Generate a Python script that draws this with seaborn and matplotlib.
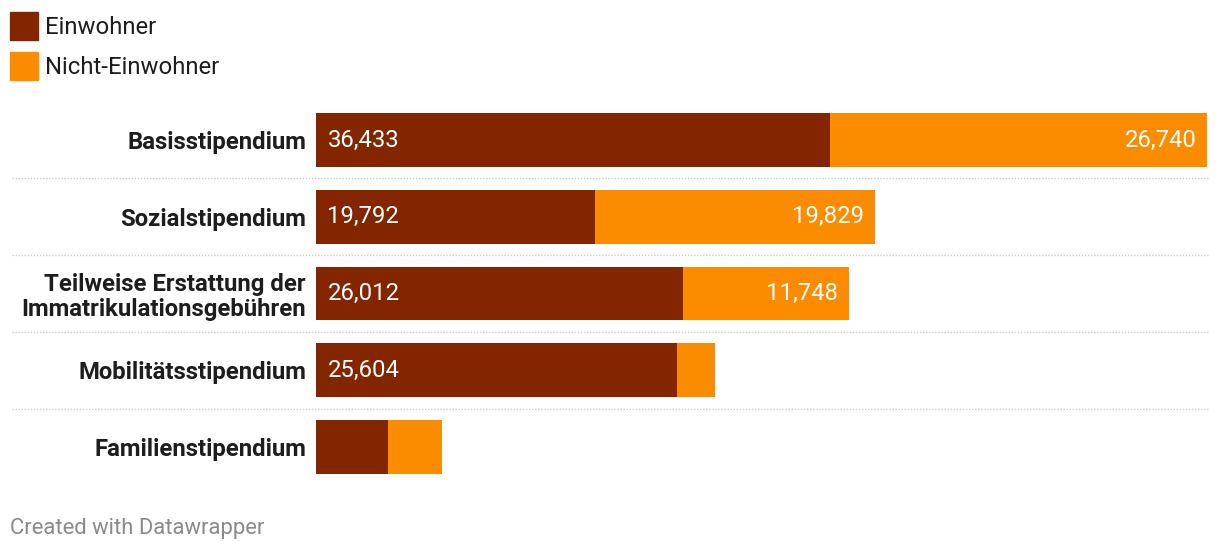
import matplotlib
matplotlib.use("Agg")
import matplotlib.pyplot as plt
import matplotlib.transforms as mtransforms
from matplotlib.patches import Rectangle
import seaborn as sns
import pandas as pd

# data
categories = [
    "Basisstipendium",
    "Sozialstipendium",
    "Teilweise Erstattung der\nImmatrikulationsgebühren",
    "Mobilitätsstipendium",
    "Familienstipendium",
]
einwohner = [36433, 19792, 26012, 25604, 5100]
nicht_einwohner = [26740, 19829, 11748, 2690, 3830]
series_names = ["Einwohner", "Nicht-Einwohner"]

dark = "#832600"
orange = "#fb8c00"

df = pd.DataFrame({
    "Kategorie": categories,
    "Einwohner": einwohner,
    "Nicht": nicht_einwohner,
})
df["Gesamt"] = df["Einwohner"] + df["Nicht"]

sns.set_theme(style="white")
plt.rcParams["font.family"] = ["Roboto", "DejaVu Sans"]

fig = plt.figure(figsize=(12.2, 5.52), dpi=100)
ax = fig.add_axes([316 / 1220, 1 - 485.4 / 552, 892 / 1220, 383.8 / 552])

# stacked bars: total in orange, residents on top in dark red
sns.barplot(data=df, y="Kategorie", x="Gesamt", color=orange, width=0.7,
            saturation=1, linewidth=0, ax=ax, orient="h")
sns.barplot(data=df, y="Kategorie", x="Einwohner", color=dark, width=0.7,
            saturation=1, linewidth=0, ax=ax, orient="h")

ax.set_xlim(0, df["Gesamt"].max() * 892 / 891)
ax.set_ylim(len(categories) - 0.5, -0.5)
ax.set_xlabel("")
ax.set_ylabel("")
ax.set_xticks([])
for s in ax.spines.values():
    s.set_visible(False)
ax.tick_params(axis="y", length=0, pad=7.2)
for lbl in ax.get_yticklabels():
    lbl.set_fontsize(17.2)
    lbl.set_fontweight("bold")
    lbl.set_color("#1d1d1d")
    lbl.set_linespacing(1.1)

# value labels inside the segments
for i, row in df.iterrows():
    if row["Einwohner"] > 10000:
        ax.annotate(f"{row['Einwohner']:,}", xy=(0, i), xytext=(8.2, 0),
                    textcoords="offset points", ha="left", va="center",
                    color="white", fontsize=17.2)
    if row["Nicht"] > 10000:
        ax.annotate(f"{row['Nicht']:,}", xy=(row["Gesamt"], i), xytext=(-7.5, 0),
                    textcoords="offset points", ha="right", va="center",
                    color="white", fontsize=17.2)

# dotted separators between rows
trans = mtransforms.blended_transform_factory(fig.transFigure, ax.transData)
for k in range(len(categories) - 1):
    ax.plot([12 / 1220, 1208 / 1220], [k + 0.5, k + 0.5], transform=trans,
            color="#cccccc", linestyle=(0, (1, 1.2)), linewidth=1, clip_on=False)

# legend
for j, (name, col) in enumerate(zip(series_names, [dark, orange])):
    top = 12 + j * 40
    fig.patches.append(Rectangle((10 / 1220, 1 - (top + 28) / 552), 28 / 1220, 28 / 552,
                                 transform=fig.transFigure, color=col, figure=fig))
    fig.text(45 / 1220, 1 - (top + 16) / 552, name, ha="left", va="center",
             fontsize=17.2, color="#1d1d1d")

fig.text(10 / 1220, 1 - 528.5 / 552, "Created with Datawrapper", ha="left",
         va="center", fontsize=15.8, color="#8a8a8a")

fig.savefig("out.png", dpi=100)
